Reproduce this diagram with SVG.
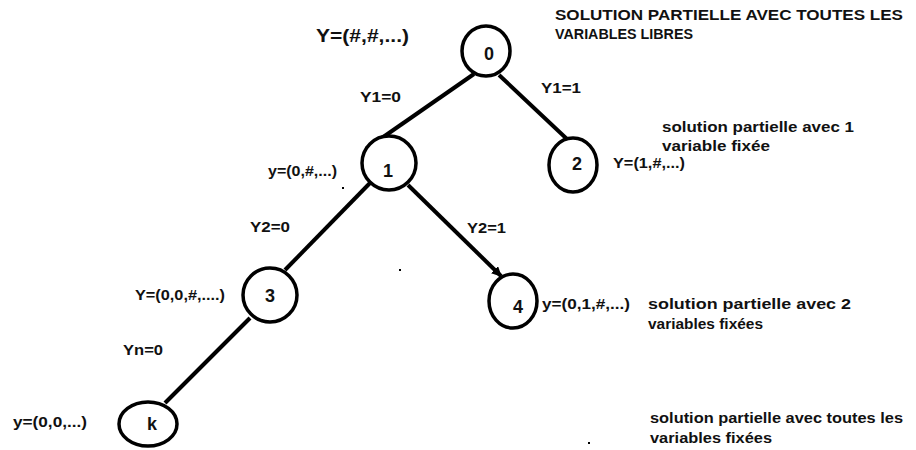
<svg xmlns="http://www.w3.org/2000/svg" width="916" height="450" viewBox="0 0 916 450">
<defs>
<style>
.n{fill:#fff;stroke:#000;stroke-width:3.5}
.e{stroke:#000;stroke-width:4;fill:none;stroke-linecap:butt}
text{font-family:"Liberation Sans",Arial,sans-serif;font-weight:bold;fill:#111}
.lbl{font-size:18px;text-anchor:middle}
.t{font-size:14px}
.s{font-size:15.5px}
</style>
<marker id="ah" viewBox="0 0 10 10" refX="9" refY="5" markerWidth="2.5" markerHeight="2.5" orient="auto">
<path d="M0,0L10,5L0,10z" fill="#000"/>
</marker>
</defs>
<rect width="916" height="450" fill="#fff"/>
<g id="connectors">
<line class="e" x1="474" y1="74" x2="366" y2="149"/>
<line class="e" x1="499" y1="75" x2="568" y2="140"/>
<line class="e" x1="370" y1="183" x2="285" y2="270"/>
<line class="e" x1="408" y1="185" x2="501" y2="276" marker-end="url(#ah)"/>
<line class="e" x1="250" y1="318" x2="165" y2="403"/>
</g>
<g id="node0"><ellipse class="n" cx="486" cy="51" rx="24" ry="25"/><text class="lbl" x="489" y="60">0</text></g>
<g id="node1"><ellipse class="n" cx="389" cy="163" rx="27" ry="27"/><text class="lbl" x="388" y="177">1</text></g>
<g id="node2"><ellipse class="n" cx="573" cy="165" rx="24" ry="27"/><text class="lbl" x="577" y="170">2</text></g>
<g id="node3"><ellipse class="n" cx="270" cy="295" rx="27" ry="27"/><text class="lbl" x="270" y="302">3</text></g>
<g id="node4"><ellipse class="n" cx="513" cy="301" rx="24" ry="27"/><text class="lbl" x="518" y="313">4</text></g>
<g id="nodek"><ellipse class="n" cx="148" cy="424" rx="29" ry="22"/><text class="lbl" x="152" y="430">k</text></g>
<g id="labels">
<text class="t" x="555" y="20" textLength="348" lengthAdjust="spacingAndGlyphs">SOLUTION PARTIELLE AVEC TOUTES LES</text>
<text class="t" x="555" y="39" textLength="138" lengthAdjust="spacingAndGlyphs">VARIABLES LIBRES</text>
<text style="font-size:18px" x="316" y="42" textLength="93" lengthAdjust="spacingAndGlyphs">Y=(#,#,...)</text>
<text class="t" x="360" y="102" textLength="41" lengthAdjust="spacingAndGlyphs">Y1=0</text>
<text class="t" x="541" y="93" textLength="40" lengthAdjust="spacingAndGlyphs">Y1=1</text>
<text class="s" x="662" y="132" textLength="192" lengthAdjust="spacingAndGlyphs">solution partielle avec 1</text>
<text class="s" x="662" y="151" textLength="108" lengthAdjust="spacingAndGlyphs">variable fixée</text>
<text class="t" x="613" y="168" textLength="72" lengthAdjust="spacingAndGlyphs">Y=(1,#,...)</text>
<text class="t" x="268" y="176" textLength="69" lengthAdjust="spacingAndGlyphs">y=(0,#,...)</text>
<text class="t" x="250" y="232" textLength="40" lengthAdjust="spacingAndGlyphs">Y2=0</text>
<text class="t" x="467" y="233" textLength="39" lengthAdjust="spacingAndGlyphs">Y2=1</text>
<text class="t" x="135" y="300" textLength="90" lengthAdjust="spacingAndGlyphs">Y=(0,0,#,....)</text>
<text class="t" x="542" y="309" textLength="88" lengthAdjust="spacingAndGlyphs">y=(0,1,#,...)</text>
<text class="s" x="648" y="309" textLength="203" lengthAdjust="spacingAndGlyphs">solution partielle avec 2</text>
<text class="s" x="648" y="329" textLength="115" lengthAdjust="spacingAndGlyphs">variables fixées</text>
<text class="t" x="123" y="355" textLength="40" lengthAdjust="spacingAndGlyphs">Yn=0</text>
<text class="t" x="13" y="427" textLength="74" lengthAdjust="spacingAndGlyphs">y=(0,0,...)</text>
<text class="s" x="650" y="423" textLength="253" lengthAdjust="spacingAndGlyphs">solution partielle avec toutes les</text>
<text class="s" x="650" y="443" textLength="122" lengthAdjust="spacingAndGlyphs">variables fixées</text>
</g>
<g id="dots" fill="#000">
<rect x="342" y="187" width="2" height="2"/>
<rect x="399" y="269" width="2" height="2"/>
<rect x="588" y="442" width="2" height="2"/>
</g>
</svg>
